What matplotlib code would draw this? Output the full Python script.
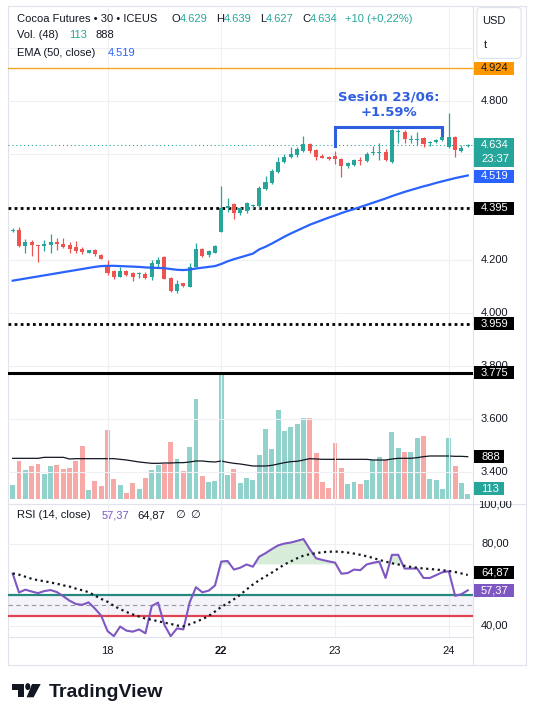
import numpy as np
import matplotlib
matplotlib.use('Agg')
import matplotlib.pyplot as plt
from matplotlib.patches import Rectangle, FancyBboxPatch, Polygon, Circle
from matplotlib.lines import Line2D
from matplotlib.transforms import Bbox, blended_transform_factory

# ---- datos (velas de 30 min) ----
opens = [4.311, 4.313, 4.252, 4.267, 4.255, 4.253, 4.258, 4.268, 4.260, 4.255,
         4.248, 4.240, 4.228, 4.238, 4.220, 4.180, 4.157, 4.137, 4.160, 4.152,
         4.148, 4.146, 4.137, 4.184, 4.212, 4.132, 4.084, 4.113, 4.100, 4.175,
         4.240, 4.218, 4.228, 4.307, 4.395, 4.411, 4.376, 4.386, 4.404, 4.404,
         4.467, 4.492, 4.532, 4.570, 4.588, 4.597, 4.610, 4.638, 4.615, 4.594,
         4.590, 4.594, 4.580, 4.553, 4.560, 4.577, 4.575, 4.604, 4.605, 4.609,
         4.571, 4.683, 4.684, 4.654, 4.652, 4.659, 4.641, 4.645, 4.653, 4.628,
         4.665, 4.612, 4.629]
highs = [4.322, 4.323, 4.278, 4.275, 4.258, 4.275, 4.298, 4.282, 4.282, 4.267,
         4.273, 4.250, 4.239, 4.243, 4.223, 4.200, 4.162, 4.172, 4.162, 4.156,
         4.156, 4.156, 4.200, 4.212, 4.214, 4.137, 4.124, 4.115, 4.190, 4.263,
         4.244, 4.238, 4.258, 4.479, 4.433, 4.414, 4.398, 4.420, 4.412, 4.480,
         4.517, 4.545, 4.590, 4.600, 4.625, 4.625, 4.668, 4.641, 4.617, 4.600,
         4.594, 4.611, 4.586, 4.568, 4.580, 4.590, 4.606, 4.630, 4.640, 4.618,
         4.694, 4.693, 4.692, 4.672, 4.684, 4.666, 4.650, 4.655, 4.668, 4.753,
         4.668, 4.633, 4.639]
lows = [4.305, 4.250, 4.225, 4.215, 4.194, 4.235, 4.228, 4.238, 4.244, 4.228,
        4.228, 4.221, 4.225, 4.215, 4.204, 4.143, 4.130, 4.135, 4.140, 4.122,
        4.131, 4.129, 4.124, 4.175, 4.128, 4.080, 4.077, 4.100, 4.097, 4.172,
        4.212, 4.212, 4.225, 4.306, 4.382, 4.354, 4.370, 4.376, 4.393, 4.393,
        4.464, 4.485, 4.527, 4.566, 4.586, 4.590, 4.608, 4.603, 4.578, 4.584,
        4.579, 4.562, 4.512, 4.547, 4.555, 4.557, 4.570, 4.597, 4.577, 4.573,
        4.565, 4.640, 4.643, 4.643, 4.634, 4.626, 4.630, 4.642, 4.650, 4.623,
        4.590, 4.606, 4.627]
closes = [4.314, 4.252, 4.267, 4.255, 4.253, 4.260, 4.268, 4.260, 4.250, 4.243,
          4.235, 4.230, 4.237, 4.221, 4.205, 4.152, 4.135, 4.160, 4.145, 4.137,
          4.150, 4.133, 4.187, 4.200, 4.129, 4.084, 4.109, 4.102, 4.172, 4.240,
          4.215, 4.233, 4.253, 4.395, 4.404, 4.376, 4.395, 4.414, 4.406, 4.473,
          4.494, 4.537, 4.570, 4.589, 4.599, 4.619, 4.638, 4.613, 4.590, 4.586,
          4.581, 4.580, 4.556, 4.566, 4.577, 4.574, 4.600, 4.607, 4.608, 4.577,
          4.691, 4.686, 4.658, 4.657, 4.655, 4.638, 4.643, 4.653, 4.663, 4.665,
          4.615, 4.621, 4.634]
volumes = [294, 798, 609, 693, 735, 525, 693, 714, 630, 651,
           798, 1113, 189, 378, 273, 1449, 420, 294, 126, 336,
           210, 441, 609, 714, 735, 1197, 840, 588, 1092, 2100,
           483, 357, 378, 2604, 504, 630, 336, 441, 399, 924,
           1470, 1050, 1869, 1428, 1512, 1575, 1701, 1701, 966, 357,
           231, 1176, 651, 315, 357, 315, 399, 819, 882, 819,
           1407, 1071, 987, 987, 1281, 1323, 420, 399, 210, 1281,
           693, 336, 113]
vol_ma = [854, 854, 854, 854, 854, 875, 875, 875, 875, 840,
          847, 847, 847, 847, 847, 847, 847, 833, 819, 798,
          777, 763, 749, 749, 756, 756, 763, 763, 777, 798,
          798, 784, 777, 798, 770, 749, 735, 714, 693, 693,
          693, 707, 735, 763, 784, 791, 819, 847, 840, 833,
          833, 833, 833, 833, 833, 833, 833, 819, 819, 819,
          840, 854, 854, 854, 868, 889, 903, 903, 903, 903,
          896, 896, 888]
ema50 = [4.122, 4.126, 4.130, 4.134, 4.138, 4.142, 4.146, 4.150, 4.154, 4.158,
         4.162, 4.166, 4.170, 4.174, 4.177, 4.178, 4.178, 4.177, 4.176, 4.175,
         4.174, 4.172, 4.171, 4.170, 4.169, 4.166, 4.163, 4.162, 4.164, 4.168,
         4.171, 4.174, 4.177, 4.185, 4.195, 4.203, 4.210, 4.217, 4.224, 4.240,
         4.250, 4.262, 4.275, 4.288, 4.300, 4.311, 4.322, 4.333, 4.342, 4.351,
         4.360, 4.368, 4.377, 4.385, 4.392, 4.400, 4.408, 4.416, 4.424, 4.432,
         4.441, 4.449, 4.457, 4.464, 4.471, 4.478, 4.484, 4.491, 4.497, 4.503,
         4.509, 4.514, 4.519]
rsi = [65.5, 56.3, 57.7, 56.8, 56.0, 57.0, 57.5, 56.5, 54.5, 52.3,
       50.7, 50.3, 51.5, 48.5, 45.0, 37.5, 35.0, 39.7, 37.7, 37.2,
       38.3, 36.4, 49.7, 51.4, 40.5, 35.0, 38.8, 38.3, 51.5, 58.9,
       56.4, 57.2, 59.7, 71.4, 71.7, 67.5, 68.4, 70.0, 68.9, 73.8,
       75.5, 77.5, 79.3, 80.2, 80.7, 81.5, 82.4, 77.5, 73.0, 72.2,
       71.5, 70.9, 65.5, 65.8, 67.5, 67.2, 70.0, 70.8, 71.4, 63.4,
       74.7, 74.7, 68.0, 68.0, 68.0, 63.4, 63.4, 64.8, 66.2, 66.7,
       54.7, 55.5, 57.37]
rsi_ma = [65.6, 65.0, 64.0, 63.0, 62.3, 61.8, 61.2, 60.6, 59.8, 59.2,
          58.2, 57.4, 56.5, 54.8, 53.2, 51.8, 49.8, 48.2, 46.8, 45.6,
          44.6, 43.6, 43.0, 42.3, 41.6, 41.0, 40.2, 39.8, 40.8, 42.0,
          43.3, 44.8, 47.0, 49.3, 51.0, 53.0, 55.2, 57.8, 60.2, 62.3,
          64.2, 66.0, 68.0, 70.0, 71.5, 73.0, 74.3, 75.0, 75.5, 76.0,
          76.2, 76.3, 76.1, 75.8, 75.3, 74.7, 74.0, 73.2, 72.2, 71.4,
          70.6, 70.0, 69.3, 68.8, 68.4, 68.0, 67.8, 67.5, 67.2, 66.8,
          66.3, 65.6, 64.87]

day_labels = ['18', '22', '23', '24']
day_start = [15, 33, 51, 69]
grid_prices = [5.0, 4.8, 4.6, 4.4, 4.2, 4.0, 3.8, 3.6, 3.4]
price_ticks = [4.8, 4.2, 4.0, 3.8, 3.6, 3.4]
rsi_grid = [40, 60, 80]
rsi_ticks = [80, 40]
nivel_naranja = 4.924
niveles_punteados = [4.395, 3.959]
nivel_solido = 3.775
ultimo = 4.634
# corchete "Sesion 23/06"
bracket_x = [51, 51, 68, 68]
bracket_y = [4.630, 4.703, 4.703, 4.672]

TEAL = '#26a69a'
RED = '#ef5350'
BLUE = '#2962ff'
PURPLE = '#7e57c2'
INK = '#131722'
GRID = '#eef0f4'
BORDER = '#e0e3eb'

plt.rcParams['font.family'] = ['Liberation Sans', 'DejaVu Sans']
plt.rcParams['font.size'] = 8

W, H = 535, 713
fig = plt.figure(figsize=(W / 100, H / 100), dpi=100)
fig.patch.set_facecolor('white')


def fx(x):
    return x / W


def fy(y):
    return 1 - y / H


main_rect = [fx(8), fy(503.8), (473 - 8) / W, (503.8 - 6) / H]
rsi_rect = [fx(8), fy(637.4), (473 - 8) / W, (637.4 - 503.8) / H]

axv = fig.add_axes(main_rect, zorder=1)
ax = fig.add_axes(main_rect, zorder=2)
axr = fig.add_axes(rsi_rect, zorder=2)
for a in (axv, ax, axr):
    a.set_xlim(-0.744, 72.83)
    a.set_axis_off()
ax.set_ylim(3.280, 5.1585)
axv.set_ylim(-101, 10353)
axr.set_ylim(34.4, 99.6)

x = np.arange(len(opens))
o = np.array(opens)
h = np.array(highs)
l = np.array(lows)
c = np.array(closes)
up = c >= o
colores = np.where(up, TEAL, RED)

# grilla
for p in grid_prices:
    ax.axhline(p, color=GRID, lw=0.8, zorder=0)
for g in rsi_grid:
    axr.axhline(g, color=GRID, lw=0.8, zorder=0)
for d in day_start:
    ax.axvline(d, color=GRID, lw=0.8, zorder=0)
    axr.axvline(d, color=GRID, lw=0.8, zorder=0)

# volumen
axv.bar(x, volumes, width=0.78, color=np.where(up, '#92d2cc', '#f7a9a7'), lw=0)
axv.plot(x, vol_ma, color=INK, lw=0.9)

# niveles horizontales
ax.axhline(nivel_naranja, color='#f5a623', lw=1.0, zorder=2)
for nv in niveles_punteados:
    ax.axhline(nv, color='black', lw=2.0, ls=(0, (1, 1.2)), zorder=2)
ax.axhline(nivel_solido, color='black', lw=2.2, zorder=2)
ax.axhline(ultimo, color=TEAL, lw=0.8, ls=(0, (1, 2.5)), zorder=2)

# velas
ax.vlines(x, l, h, colors=colores, lw=0.9, zorder=3)
ax.bar(x, np.maximum(np.abs(c - o), 0.004), bottom=np.minimum(o, c), width=0.64,
       color=colores, lw=0, zorder=4)
ax.plot(x, ema50, color=BLUE, lw=1.6, zorder=5)

# anotacion
ax.plot(bracket_x, bracket_y, color='#2f5fe0', lw=2.2, solid_joinstyle='miter', zorder=6)
ax.text(59.5, 4.786, 'Sesión 23/06:\n+1.59%', color='#2f5fe0', fontsize=9.5,
        fontweight='bold', ha='center', va='center', linespacing=1.25,
        family='DejaVu Sans', zorder=6)

# RSI
rsi_a = np.array(rsi)
axr.axhspan(45, 55, color=PURPLE, alpha=0.07, lw=0, zorder=0)
axr.axhline(50, color='#9598a1', lw=0.8, ls=(0, (4, 3)), zorder=1)
axr.axhline(55, color='#26897f', lw=1.6, zorder=2)
axr.axhline(45, color='#e0434f', lw=1.6, zorder=2)
axr.fill_between(x, rsi_a, 70, where=rsi_a > 70, interpolate=True,
                 color='#66bb6a', alpha=0.25, lw=0, zorder=1)
axr.plot(x, rsi, color=PURPLE, lw=1.5, zorder=3)
axr.plot(x, rsi_ma, color=INK, lw=1.6, ls=(0, (1, 1.6)), zorder=4)

# bordes y separadores
for (x0, y0, x1, y1) in [(8, 6, 526, 6), (8, 665, 526, 665), (8, 6, 8, 665),
                         (526, 6, 526, 665), (473, 6, 473, 665),
                         (8, 503.8, 526, 503.8), (8, 637.4, 473, 637.4)]:
    fig.add_artist(Line2D([fx(x0), fx(x1)], [fy(y0), fy(y1)], color=BORDER,
                          lw=0.8, transform=fig.transFigure, zorder=2))


def ypx(a, v):
    return a.transData.transform((0, v))[1]


def tag(a, v, texto, fc, tc='white', w=40, hh=13, shift=0):
    yc = ypx(a, v) + shift
    fig.add_artist(Rectangle((474 / W, (yc - hh / 2) / H), w / W, hh / H,
                             transform=fig.transFigure, fc=fc, ec='none', zorder=4))
    fig.text(481 / W, yc / H, texto, color=tc, va='center', ha='left', zorder=5)


# etiquetas del eje de precios
for p in price_ticks:
    fig.text(481 / W, ypx(ax, p) / H, f'{p:.3f}', color=INK, va='center', zorder=3)
for r in rsi_ticks:
    fig.text(481 / W, ypx(axr, r) / H, f'{r:.2f}'.replace('.', ','), color=INK,
             va='center', zorder=3)
t100 = fig.text(478 / W, (ypx(axr, 100) - 2) / H, '100,00', color=INK, va='center', zorder=3)
t100.set_clip_box(Bbox.from_extents(470, 0, 535, H - 501))
t100.set_clip_on(True)

tag(ax, nivel_naranja, '4.924', '#ff9800', tc=INK)
yc = ypx(ax, ultimo)
fig.add_artist(Rectangle((474 / W, (yc - 22) / H), 40 / W, 29 / H,
                         transform=fig.transFigure, fc=TEAL, ec='none', zorder=4))
fig.text(481 / W, yc / H, '4.634', color='white', va='center', zorder=5)
fig.text(481 / W, (yc - 14) / H, '23:37', color='white', va='center', zorder=5)
tag(ax, ema50[-1], '4.519', BLUE, shift=-1)
tag(ax, niveles_punteados[0], '4.395', 'black')
tag(ax, niveles_punteados[1], '3.959', 'black')
tag(ax, nivel_solido, '3.775', 'black')
tag(axv, vol_ma[-1], '888', 'black', w=30)
tag(axv, volumes[-1], '113', TEAL, w=30, shift=5)
tag(axr, rsi_ma[-1], '64,87', 'black', shift=2)
tag(axr, rsi[-1], '57,37', PURPLE)

# caja USD
fig.add_artist(FancyBboxPatch((fx(478), fy(57)), 42 / W, 48 / H,
                              boxstyle='round,pad=0.002,rounding_size=0.006',
                              transform=fig.transFigure, fc='white', ec=BORDER,
                              lw=0.8, zorder=4))
fig.text(fx(482), fy(21), 'USD', color=INK, va='center', zorder=5)
fig.text(fx(484), fy(45), 't', color=INK, va='center', zorder=5)

# fechas
tr = blended_transform_factory(axr.transData, fig.transFigure)
for d, lab in zip(day_start, day_labels):
    axr.text(d, fy(651), lab, transform=tr, ha='center', va='center', color=INK,
             fontweight='bold' if lab == '22' else 'normal', clip_on=False)

# encabezados
def piezas(y, partes):
    for xx, s, col in partes:
        fig.text(fx(xx), fy(y), s, color=col, va='center', zorder=5)


piezas(19, [(17, 'Cocoa Futures • 30 • ICEUS', INK), (171.5, 'O', INK), (180, '4.629', TEAL),
            (216.5, 'H', INK), (224, '4.639', TEAL), (260, 'L', INK), (266, '4.627', TEAL),
            (302, 'C', INK), (310, '4.634', TEAL), (345, '+10 (+0,22%)', TEAL)])
piezas(35.5, [(17, 'Vol. (48)', INK), (69, '113', TEAL), (95, '888', INK)])
piezas(52.5, [(17, 'EMA (50, close)', INK), (108, '4.519', BLUE)])
piezas(515.5, [(17, 'RSI (14, close)', INK), (102, '57,37', PURPLE), (137, '64,87', INK),
               (175, '∅', INK), (190, '∅', INK)])

# logo TradingView
pts = [(11.7, 684), (24, 684), (24, 697.3), (18.3, 697.3), (18.3, 690), (11.7, 690)]
fig.add_artist(Polygon([(fx(a), fy(b)) for a, b in pts], closed=True, fc=INK, ec='none',
                       transform=fig.transFigure))
fig.add_artist(Circle((fx(27.8), fy(686.6)), 2.6 / W, fc=INK, ec='none',
                      transform=fig.transFigure))
pts = [(32.0, 684), (40.7, 684), (33.6, 697.3), (26.6, 697.3)]
fig.add_artist(Polygon([(fx(a), fy(b)) for a, b in pts], closed=True, fc=INK, ec='none',
                       transform=fig.transFigure))
fig.text(fx(49), fy(697.3), 'TradingView', fontsize=14, fontweight='bold', color=INK,
         va='baseline', ha='left')

fig.savefig('out.png', dpi=100, facecolor='white')
